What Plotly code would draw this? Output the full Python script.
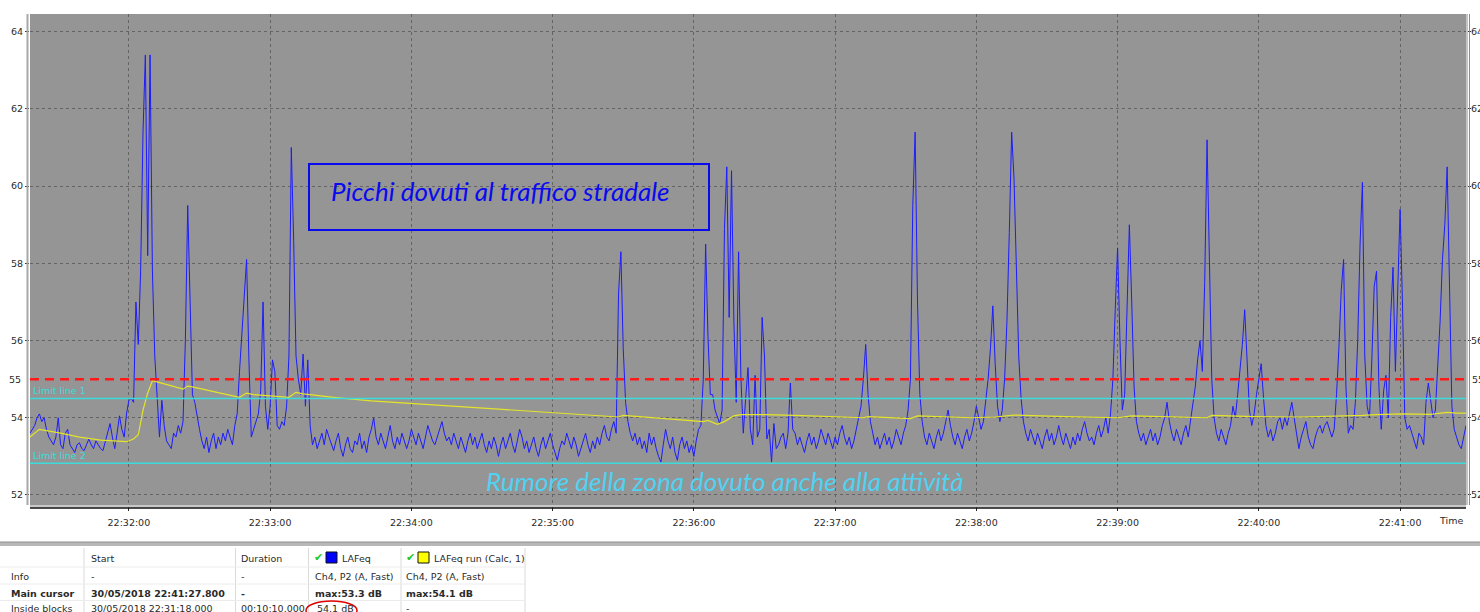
import plotly.graph_objects as go
import pandas as pd

# ---------------- data ----------------
START = "2018-05-30 22:31:18"
N_SEC = 610

lafeq = [
    53.6, 53.7, 53.8, 54.0, 54.1, 53.9, 54.0, 53.7, 53.5, 53.4,
    53.3, 53.5, 54.0, 53.3, 53.2, 53.6, 53.7, 53.3, 53.2, 53.1,
    53.3, 53.35, 53.2, 53.15, 53.3, 53.45, 53.3, 53.2, 53.4, 53.3,
    53.2, 53.15, 53.4, 53.6, 53.85, 53.5, 53.2, 53.6, 54.05, 53.7,
    53.5, 54.1, 54.45, 54.5, 54.4, 57.0, 55.9, 57.8, 61.4, 63.4,
    58.2, 63.4, 57.8, 55.6, 54.6, 53.5, 54.45, 53.8, 53.4, 53.3,
    53.2, 53.6, 53.5, 53.8, 53.6, 53.9, 56.0, 59.5, 56.9, 54.6,
    54.4, 54.0, 53.7, 53.4, 53.2, 53.5, 53.1, 53.4, 53.6, 53.2,
    53.5, 53.3, 53.6, 53.4, 53.7, 53.5, 53.3, 53.8, 54.1, 55.2,
    56.2, 57.2, 58.1, 55.5, 53.5, 53.7, 53.9, 54.1, 54.7, 57.0,
    54.3, 53.7, 54.3, 55.5, 55.2, 53.8, 53.7, 53.9, 53.8, 54.3,
    55.6, 61.0, 58.6, 55.6, 55.0, 54.6, 55.65, 54.3, 55.5, 53.8,
    53.3, 53.5, 53.2, 53.4, 53.6, 53.3, 53.7, 53.5, 53.3, 53.15,
    53.4, 53.6, 53.2, 53.0, 53.3, 53.5, 53.2, 53.1, 53.4, 53.3,
    53.6, 53.2, 53.4, 53.1, 53.5, 53.7, 54.0, 53.5, 53.3, 53.6,
    53.4, 53.2, 53.5, 53.8, 53.4, 53.2, 53.5, 53.3, 53.6, 53.4,
    53.2, 53.4, 53.7, 53.5, 53.3, 53.6, 53.4, 53.2, 53.5, 53.8,
    53.6, 53.4, 53.3, 53.5, 53.7, 53.9, 53.6, 53.4, 53.5, 53.3,
    53.6, 53.4, 53.2, 53.5, 53.3, 53.1, 53.4, 53.6, 53.3, 53.5,
    53.2, 53.4, 53.6, 53.3, 53.1, 53.4, 53.2, 53.5, 53.3, 53.0,
    53.3, 53.5, 53.2, 53.4, 53.6, 53.3, 53.1, 53.4, 53.7, 53.5,
    53.2, 53.4, 53.1, 53.3, 53.5, 53.2, 53.0, 53.3, 53.5, 53.2,
    53.4, 53.6, 53.3, 53.1, 52.9, 53.2, 53.4, 53.3, 53.6, 53.4,
    53.2, 53.5, 53.3, 53.0, 53.2, 53.4, 53.6, 53.3, 53.1, 53.4,
    53.2, 53.5, 53.3, 53.6, 53.8, 53.5, 53.4, 53.7, 53.9, 53.6,
    57.2, 58.3, 55.8, 54.4, 53.9, 53.6, 53.4, 53.6, 53.3, 53.5,
    53.2, 53.4, 53.1, 53.6, 53.3, 53.5, 53.2, 53.0, 52.85, 53.3,
    53.7, 53.4, 53.2, 53.5, 53.1, 52.9, 53.3, 53.5, 53.2, 53.4,
    53.1, 53.3, 53.0, 53.4, 53.7, 53.8, 55.0, 58.5, 56.1, 54.6,
    54.6, 54.2, 54.0, 53.85, 54.2, 58.9, 60.5, 56.6, 60.4, 56.5,
    54.4, 58.3, 55.0, 53.6, 54.5, 55.3, 53.7, 53.3, 55.1, 53.5,
    53.7, 56.6, 55.6, 53.45, 53.7, 52.85, 53.85, 53.2, 53.3, 53.5,
    53.6, 53.2, 53.6, 54.9, 53.7, 53.6, 53.3, 53.5, 53.3, 53.1,
    53.4, 53.6, 53.3, 53.5, 53.2, 53.4, 53.7, 53.5, 53.3, 53.6,
    53.4, 53.2, 53.5, 53.3, 53.6, 53.8, 53.5, 53.3, 53.5, 53.2,
    53.4, 53.7, 54.0, 54.3, 55.0, 55.9, 54.6, 53.9, 53.6, 53.3,
    53.5, 53.2, 53.4, 53.6, 53.3, 53.5, 53.2, 53.4, 53.7, 53.5,
    53.3, 53.6, 53.8, 54.2, 55.0, 59.5, 61.4, 57.0, 54.6, 53.9,
    53.5, 53.3, 53.6, 53.4, 53.2, 53.5, 53.7, 53.4, 53.6, 53.9,
    54.2, 53.8, 53.5, 53.3, 53.6, 53.4, 53.2, 53.5, 53.7, 53.4,
    53.6, 53.9, 54.3, 54.0, 53.7, 53.9, 54.4, 55.0, 55.8, 56.9,
    55.4, 54.3, 53.9, 54.2, 55.0, 56.5, 58.8, 61.4, 60.2, 57.5,
    55.6, 54.5, 53.9, 53.6, 53.4, 53.7, 53.5, 53.3, 53.6, 53.4,
    53.2, 53.5, 53.7, 53.4, 53.6, 53.3, 53.5, 53.8, 53.5, 53.3,
    53.6, 53.4, 53.2, 53.5, 53.3, 53.6, 53.4, 53.7, 53.9, 53.6,
    53.4, 53.5, 53.3, 53.6, 53.8, 53.5, 53.7, 54.0, 53.6, 54.1,
    55.0, 56.8, 58.4, 56.0, 54.2, 54.6, 56.5, 59.0, 57.0, 54.8,
    53.9, 53.6, 53.4, 53.6, 53.3, 53.5, 53.7, 53.4, 53.6, 53.3,
    53.5, 53.8, 54.0, 54.4, 53.9, 53.6, 53.4, 53.7, 53.5, 53.3,
    53.6, 53.8, 53.5, 53.9, 54.3, 54.8, 55.5, 56.0, 55.2, 57.5,
    61.2, 58.0, 55.0, 54.0, 53.6, 53.4, 53.7, 53.5, 53.3, 53.6,
    53.8, 54.3, 54.0, 54.6, 55.2, 55.9, 56.8, 55.5, 54.2, 53.8,
    54.1, 54.6, 55.0, 55.4, 54.5, 53.8, 53.5, 53.7, 53.4, 53.6,
    53.9, 54.0, 53.7, 54.0, 53.8, 54.1, 54.4, 54.0, 53.6, 53.2,
    53.5, 53.7, 53.9, 53.5, 53.3, 53.2, 53.5, 53.7, 53.8, 53.6,
    53.8, 53.9, 53.7, 53.5, 53.7, 54.6, 55.8, 57.3, 58.1, 54.8,
    53.6, 53.8, 53.7, 54.4, 56.0, 58.5, 60.1, 55.6, 54.3, 54.0,
    55.5, 57.4, 57.8, 54.8, 53.7, 54.7, 55.1, 54.0, 56.6, 57.9,
    55.2, 57.1, 59.4, 57.0, 54.0, 53.7, 53.8, 53.6, 53.4, 53.2,
    53.6, 53.5, 53.3, 54.4, 54.9, 54.4, 54.0, 54.2, 55.3, 56.5,
    58.1, 59.0, 60.5, 57.0, 54.3, 53.7, 53.5, 53.3, 53.2, 53.5, 53.8,
]

run_sec = [0, 4, 13, 21, 30, 41, 44, 46, 48, 50, 52, 54, 65, 67, 69, 89, 92, 95,
           110, 113, 116, 129, 145, 165, 185, 205, 225, 245, 250, 252, 265, 280,
           286, 288, 292, 295, 299, 302, 312, 325, 350, 354, 356, 374, 377, 400,
           410, 418, 440, 462, 468, 490, 500, 502, 520, 540, 557, 566, 572, 583,
           595, 602, 606, 610]
run_val = [53.5, 53.7, 53.6, 53.5, 53.42, 53.38, 53.45, 53.56, 54.2, 54.64, 54.96,
           54.93, 54.74, 54.82, 54.8, 54.53, 54.64, 54.6, 54.53, 54.66, 54.62, 54.53,
           54.44, 54.36, 54.28, 54.2, 54.13, 54.05, 54.02, 54.06, 54.0, 53.94, 53.9,
           53.93, 53.83, 53.9, 54.05, 54.08, 54.08, 54.06, 54.02, 54.0, 54.03, 53.98,
           54.05, 54.0, 54.02, 54.07, 54.03, 54.0, 54.05, 54.02, 54.0, 54.06, 54.03,
           54.02, 54.04, 54.06, 54.08, 54.1, 54.09, 54.14, 54.12, 54.12]

y_ticks = [52, 54, 56, 58, 60, 62, 64]
THRESHOLD = 55.0
LIMIT1 = 54.5
LIMIT2 = 52.82
Y_RANGE = [51.74, 64.46]

assert len(lafeq) == N_SEC + 1
assert len(run_sec) == len(run_val)

t0 = pd.Timestamp(START)
t_blue = t0 + pd.to_timedelta(list(range(N_SEC + 1)), unit="s")
t_run = t0 + pd.to_timedelta(run_sec, unit="s")
t_end = t0 + pd.Timedelta(seconds=N_SEC)

# ---------------- layout helpers ----------------
W, H = 1480, 612
L, R, T, B = 30, 14, 14, 107
PW, PH = W - L - R, H - T - B


def px(x):
    return (x - L) / PW


def py(y):
    return (H - B - y) / PH


UI = "DejaVu Sans"
TXT = "#2a2a2a"
GRID = "#646464"

fig = go.Figure()
fig.add_trace(go.Scatter(x=t_blue, y=lafeq, mode="lines",
                         line=dict(color="#1c1cff", width=1), hoverinfo="skip"))
fig.add_trace(go.Scatter(x=t_run, y=run_val, mode="lines",
                         line=dict(color="#e4e42a", width=1.2), hoverinfo="skip"))
# invisible trace on right axis
fig.add_trace(go.Scatter(x=[t0, t_end], y=[None, None], yaxis="y2", mode="lines",
                         hoverinfo="skip", showlegend=False))

fig.update_layout(
    width=W, height=H, autosize=False, margin=dict(l=L, r=R, t=T, b=B, pad=0),
    paper_bgcolor="white", plot_bgcolor="#959595", showlegend=False,
    font=dict(family=UI, size=9.5, color=TXT),
    xaxis=dict(type="date", range=[t0, t_end], tick0="2018-05-30 22:32:00",
               dtick=60000, tickformat="%H:%M:%S", showgrid=True, automargin=False,
               gridcolor=GRID, griddash="3px,3px", gridwidth=1,
               ticks="outside", ticklen=5, tickcolor="#222", zeroline=False,
               showline=False, tickfont=dict(family=UI, size=9.5, color=TXT),
               ticklabelstandoff=4),
    yaxis=dict(range=Y_RANGE, tickvals=y_ticks, showgrid=True, gridcolor=GRID,
               griddash="3px,3px", gridwidth=1, ticks="outside", ticklen=4,
               tickcolor="#333", zeroline=False, showline=False, automargin=False,
               tickfont=dict(family=UI, size=9.5, color=TXT)),
    yaxis2=dict(range=Y_RANGE, tickvals=y_ticks, overlaying="y", side="right",
                showgrid=False, ticks="outside", ticklen=4, tickcolor="#333",
                zeroline=False, showline=False, automargin=False,
                ticklabelstandoff=-2,
                tickfont=dict(family=UI, size=9.5, color=TXT)),
)

shapes = []
# reference lines
shapes.append(dict(type="line", xref="paper", x0=0, x1=1, yref="y", y0=LIMIT1, y1=LIMIT1,
                   line=dict(color="#3cdcdc", width=1.5), layer="above"))
shapes.append(dict(type="line", xref="paper", x0=0, x1=1, yref="y", y0=LIMIT2, y1=LIMIT2,
                   line=dict(color="#3cdcdc", width=1.5), layer="above"))
shapes.append(dict(type="line", xref="paper", x0=0, x1=1, yref="y", y0=THRESHOLD, y1=THRESHOLD,
                   line=dict(color="#ff1a1a", width=2.5, dash="9px,6px"), layer="above"))
# annotation box
shapes.append(dict(type="rect", xref="paper", yref="paper", x0=px(309), x1=px(709),
                   y0=py(230), y1=py(164), line=dict(color="#0a0aee", width=2), layer="above"))
# plot borders
shapes.append(dict(type="line", xref="paper", yref="paper", x0=px(27.5), x1=px(27.5),
                   y0=py(505), y1=py(14), line=dict(color="#a8a8a8", width=2)))
shapes.append(dict(type="line", xref="paper", yref="paper", x0=px(1467), x1=px(1467),
                   y0=py(505), y1=py(14), line=dict(color="#c4c4c4", width=2)))
shapes.append(dict(type="line", xref="paper", yref="paper", x0=px(1469.5), x1=px(1469.5),
                   y0=py(505), y1=py(14), line=dict(color="#8c8c8c", width=1)))
# x axis line
shapes.append(dict(type="rect", xref="paper", yref="paper", x0=0, x1=1,
                   y0=py(507.5), y1=py(505), fillcolor="#c8c8c8", line=dict(width=0)))
shapes.append(dict(type="line", xref="paper", yref="paper", x0=0, x1=1,
                   y0=py(508), y1=py(508), line=dict(color="#111", width=1.5)))
# table separator band
shapes.append(dict(type="rect", xref="paper", yref="paper", x0=px(0), x1=px(W),
                   y0=py(546), y1=py(542), fillcolor="#b8b8b8", line=dict(width=0)))
shapes.append(dict(type="line", xref="paper", yref="paper", x0=px(0), x1=px(W),
                   y0=py(542), y1=py(542), line=dict(color="#8e8e8e", width=1)))
# table grid
for cx in [84, 235.5, 308.5, 401, 525]:
    shapes.append(dict(type="line", xref="paper", yref="paper", x0=px(cx), x1=px(cx),
                       y0=py(612), y1=py(548), line=dict(color="#dadada", width=1)))
for ry in [567, 584, 600.5]:
    shapes.append(dict(type="line", xref="paper", yref="paper", x0=px(0), x1=px(525),
                       y0=py(ry), y1=py(ry), line=dict(color="#ececec", width=1)))
# legend squares in table header
shapes.append(dict(type="rect", xref="paper", yref="paper", x0=px(326), x1=px(337),
                   y0=py(563), y1=py(552), fillcolor="#0000ff", line=dict(color="#111", width=1)))
shapes.append(dict(type="rect", xref="paper", yref="paper", x0=px(418), x1=px(429),
                   y0=py(563), y1=py(552), fillcolor="#ffff00", line=dict(color="#111", width=1)))
# red ellipse
shapes.append(dict(type="circle", xref="paper", yref="paper", x0=px(306), x1=px(357),
                   y0=py(620), y1=py(601), line=dict(color="#e00000", width=1.5)))
fig.update_layout(shapes=shapes)

ann = []


def text(x, y, s, size=9.5, color=TXT, xanchor="left", bold=False, family=UI, italic=False):
    if bold:
        s = "<b>" + s + "</b>"
    if italic:
        s = "<i>" + s + "</i>"
    ann.append(dict(xref="paper", yref="paper", x=px(x), y=py(y), text=s, showarrow=False,
                    xanchor=xanchor, yanchor="middle",
                    font=dict(family=family, size=size, color=color)))


# 55 labels
ann.append(dict(xref="paper", yref="y", x=px(23), y=THRESHOLD, text="55", showarrow=False,
                xanchor="right", yanchor="middle", font=dict(family=UI, size=9.5, color=TXT)))
ann.append(dict(xref="paper", yref="y", x=px(1470), y=THRESHOLD, text="55", showarrow=False,
                xanchor="left", yanchor="middle", font=dict(family=UI, size=9.5, color=TXT)))
# limit line labels
ann.append(dict(xref="paper", yref="y", x=px(31), y=LIMIT1, text="Limit line 1", showarrow=False,
                xanchor="left", yanchor="bottom", font=dict(family=UI, size=9.5, color="#3cdcdc")))
ann.append(dict(xref="paper", yref="y", x=px(31), y=LIMIT2, text="Limit line 2", showarrow=False,
                xanchor="left", yanchor="bottom", font=dict(family=UI, size=9.5, color="#3cdcdc")))
# big callouts
text(500, 191, "Picchi dovuti al traffico stradale", size=26, color="#0a0aee",
     xanchor="center", family="Lato", italic=True)
text(725, 481, "Rumore della zona dovuto anche alla attività", size=26, color="#50d2f2",
     xanchor="center", family="Lato", italic=True)
# Time label
text(1451, 520, "Time", xanchor="center")

# table
text(89, 558, "Start")
text(239, 558, "Duration")
text(318, 557, "✔", size=11, color="#22c822", xanchor="center")
text(340, 558, "LAFeq")
text(410, 557, "✔", size=11, color="#22c822", xanchor="center")
text(432, 558, "LAFeq run (Calc, 1)")

text(9, 576, "Info")
text(89, 576, "-")
text(239, 576, "-")
text(313, 576, "Ch4, P2 (A, Fast)")
text(404, 576, "Ch4, P2 (A, Fast)")

text(9, 593, "Main cursor", bold=True)
text(89, 593, "30/05/2018 22:41:27.800", bold=True)
text(239, 593, "-", bold=True)
text(313, 593, "max:53.3 dB", bold=True)
text(404, 593, "max:54.1 dB", bold=True)

text(9, 608, "Inside blocks")
text(89, 608, "30/05/2018 22:31:18.000")
text(239, 608, "00:10:10.000")
text(315, 608, "54.1 dB")
text(404, 608, "-")

fig.update_layout(annotations=ann)

PAGE_FIX = (
    "document.documentElement.style.margin='0px';"
    "document.documentElement.style.overflow='hidden';"
    "document.body.style.margin='0px';"
    "document.body.style.overflow='hidden';"
    "var gdiv=document.getElementById('{plot_id}');"
    "gdiv.style.position='absolute';gdiv.style.left='0px';gdiv.style.top='0px';"
)
fig.write_html("out.html", config={"displayModeBar": False, "responsive": False},
               post_script=PAGE_FIX)
